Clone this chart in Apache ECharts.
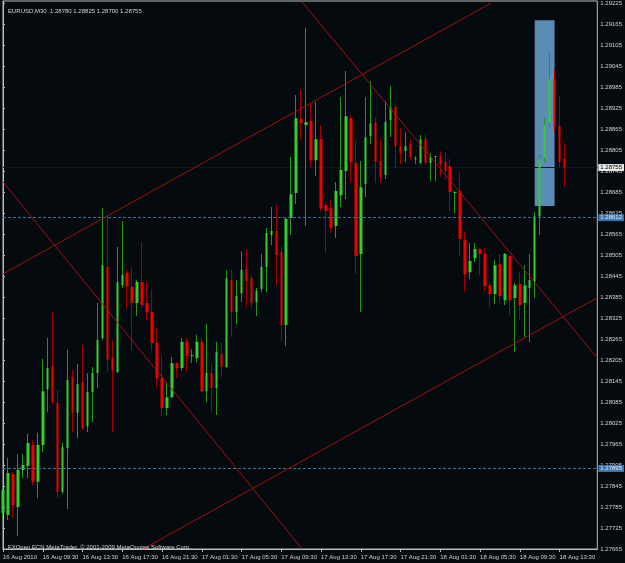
<!DOCTYPE html>
<html>
<head>
<meta charset="utf-8">
<title>EURUSD,M30</title>
<script src="https://cdn.jsdelivr.net/npm/echarts@6/dist/echarts.min.js"></script>
<style>
  html, body { margin: 0; padding: 0; background: #050a0f; }
  #main { width: 625px; height: 563px; }
</style>
</head>
<body>
<div id="main"></div>
<script>
const symbol = "EURUSD,M30";
const footerText = "FXOpen ECN MetaTrader, \u00a9 2001-2009 MetaQuotes Software Corp.";

// one label every 8 bars (4 hours of M30)
const timeLabels = [
  "16 Aug 2010", "16 Aug 09:30", "16 Aug 13:30", "16 Aug 17:30", "16 Aug 21:30",
  "17 Aug 01:30", "17 Aug 05:30", "17 Aug 09:30", "17 Aug 13:30", "17 Aug 17:30",
  "17 Aug 21:30", "18 Aug 01:30", "18 Aug 05:30", "18 Aug 09:30", "18 Aug 13:30"
];

const opens = [
  1.27768, 1.27762, 1.27879, 1.27785, 1.27891, 1.27902, 1.27962, 1.27857, 1.27962, 1.28122,
  1.28188, 1.28082, 1.27828, 1.27953, 1.28156, 1.28054, 1.28142, 1.28016, 1.28114, 1.28168,
  1.28268, 1.28471, 1.28211, 1.28171, 1.28419, 1.28454, 1.28414, 1.28368, 1.28428, 1.28368,
  1.28342, 1.28254, 1.28154, 1.28068, 1.28099, 1.28196, 1.28182, 1.28257, 1.28216, 1.28211,
  1.28257, 1.28116, 1.28168, 1.28125, 1.28222, 1.28185, 1.28434, 1.28342, 1.28396, 1.28465,
  1.28439, 1.28371, 1.28408, 1.28471, 1.28562, 1.28574, 1.28514, 1.28305, 1.28611, 1.28682,
  1.28894, 1.28876, 1.28888, 1.28776, 1.28836, 1.28648, 1.28639, 1.28588, 1.28676, 1.28745,
  1.28896, 1.28768, 1.28508, 1.28708, 1.28845, 1.28885, 1.28774, 1.28734, 1.28891, 1.28928,
  1.28816, 1.28802, 1.28822, 1.28779, 1.28768, 1.28836, 1.28768, 1.28785, 1.28788, 1.28771,
  1.28759, 1.28682, 1.28688, 1.28548, 1.28456, 1.28496, 1.28522, 1.28508, 1.28419, 1.28394,
  1.28479, 1.28376, 1.28502, 1.28382, 1.28422, 1.28368, 1.28411, 1.28428, 1.28616, 1.28782,
  1.28882, 1.29008, 1.28874, 1.28780
];
const closes = [
  1.27834, 1.27882, 1.27791, 1.27891, 1.27905, 1.27968, 1.27857, 1.27962, 1.28116, 1.28182,
  1.28085, 1.27828, 1.27956, 1.28148, 1.28056, 1.28136, 1.28008, 1.28114, 1.28168, 1.28262,
  1.28476, 1.28205, 1.28176, 1.28428, 1.28448, 1.28416, 1.28368, 1.28428, 1.28362, 1.28342,
  1.28254, 1.28154, 1.28068, 1.28099, 1.28196, 1.28182, 1.28257, 1.28216, 1.28219, 1.28257,
  1.28116, 1.28168, 1.28125, 1.28228, 1.28185, 1.28439, 1.28342, 1.28388, 1.28462, 1.28431,
  1.28368, 1.28402, 1.28471, 1.28568, 1.28574, 1.28505, 1.28305, 1.28608, 1.28679, 1.28896,
  1.28882, 1.28885, 1.28776, 1.28836, 1.28639, 1.28631, 1.28582, 1.28688, 1.28748, 1.28902,
  1.28771, 1.28502, 1.28699, 1.28842, 1.28882, 1.28771, 1.28728, 1.28885, 1.28928, 1.28816,
  1.28796, 1.28816, 1.28785, 1.28782, 1.28836, 1.28768, 1.28785, 1.28788, 1.28765, 1.28745,
  1.28685, 1.28685, 1.28551, 1.28451, 1.28488, 1.28522, 1.28508, 1.28416, 1.28394, 1.28476,
  1.28388, 1.28508, 1.28376, 1.28419, 1.28362, 1.28419, 1.28434, 1.28616, 1.28779, 1.28876,
  1.29008, 1.28871, 1.28771, 1.28755
];
const lows = [
  1.27748, 1.27748, 1.27754, 1.27702, 1.27868, 1.27868, 1.27848, 1.27811, 1.27942, 1.28056,
  1.28079, 1.27811, 1.27822, 1.27779, 1.27999, 1.27982, 1.28005, 1.27999, 1.28028, 1.28125,
  1.28262, 1.28171, 1.27999, 1.28168, 1.28411, 1.28351, 1.28234, 1.28331, 1.28356, 1.28319,
  1.28231, 1.28125, 1.28045, 1.28048, 1.28096, 1.28154, 1.28174, 1.28171, 1.28196, 1.28199,
  1.28111, 1.28085, 1.28056, 1.28048, 1.28156, 1.28182, 1.28271, 1.28308, 1.28371, 1.28356,
  1.28354, 1.28331, 1.28399, 1.28399, 1.28534, 1.28419, 1.28259, 1.28245, 1.28562, 1.28651,
  1.28831, 1.28588, 1.28756, 1.28731, 1.28631, 1.28511, 1.28568, 1.28554, 1.28642, 1.28665,
  1.28711, 1.28451, 1.28342, 1.28671, 1.28822, 1.28711, 1.28711, 1.28722, 1.28842, 1.28756,
  1.28765, 1.28771, 1.28776, 1.28765, 1.28765, 1.28765, 1.28716, 1.28716, 1.28728, 1.28719,
  1.28631, 1.28625, 1.28502, 1.28399, 1.28436, 1.28485, 1.28448, 1.28402, 1.28356, 1.28365,
  1.28365, 1.28362, 1.28331, 1.28228, 1.28319, 1.28271, 1.28257, 1.28382, 1.28562, 1.28771,
  1.28871, 1.28856, 1.28756, 1.28700
];
const highs = [
  1.27840, 1.27925, 1.27885, 1.27936, 1.27936, 1.27994, 1.27976, 1.27997, 1.28208, 1.28268,
  1.28342, 1.28119, 1.27968, 1.28234, 1.28176, 1.28194, 1.28248, 1.28168, 1.28185, 1.28368,
  1.28639, 1.28619, 1.28262, 1.28528, 1.28602, 1.28462, 1.28471, 1.28434, 1.28542, 1.28428,
  1.28408, 1.28299, 1.28219, 1.28139, 1.28214, 1.28199, 1.28268, 1.28268, 1.28236, 1.28277,
  1.28268, 1.28308, 1.28194, 1.28257, 1.28254, 1.28462, 1.28462, 1.28434, 1.28516, 1.28522,
  1.28448, 1.28411, 1.28508, 1.28582, 1.28642, 1.28648, 1.28528, 1.28614, 1.28785, 1.28962,
  1.28979, 1.29154, 1.28939, 1.28942, 1.28876, 1.28656, 1.28662, 1.28714, 1.28956, 1.29031,
  1.28905, 1.28836, 1.28774, 1.28956, 1.29002, 1.28899, 1.28836, 1.28945, 1.28988, 1.28936,
  1.28868, 1.28856, 1.28836, 1.28788, 1.28848, 1.28848, 1.28796, 1.28788, 1.28802, 1.28799,
  1.28779, 1.28688, 1.28742, 1.28571, 1.28539, 1.28539, 1.28525, 1.28525, 1.28428, 1.28491,
  1.28508, 1.28511, 1.28505, 1.28425, 1.28456, 1.28476, 1.28508, 1.28628, 1.28791, 1.28896,
  1.29085, 1.29036, 1.28959, 1.28825
];

// chart objects: bid, two horizontal levels, four trend lines, one rectangle
const bidPrice = 1.28755;
const levelPrices = [1.28612, 1.27895];
const trendLines = [
  [[0, 1.28451], [98.2, 1.29225]],
  [[28.2, 1.27665], [119.6, 1.28383]],
  [[0, 1.28714], [60.2, 1.27665]],
  [[60.2, 1.29228], [119.6, 1.28211]]
];
const boxCorners = [[107, 1.29176], [111, 1.28645]];

const priceMin = 1.27665;
const priceMax = 1.29231;
const priceStep = 0.0006;
const barsPerLabel = 8;
const xMax = 119.6;

const bg = "#050a0f";
const textColor = "#d2d2d2";
const frameColor = "#bdbdbd";
const font = "Liberation Sans";

const last = opens.length - 1;
const candles = opens.map((o, i) => [i, o, closes[i], lows[i], highs[i]]);
const fmt = (v) => v.toFixed(5);

const chart = echarts.init(document.getElementById("main"), null, { renderer: "canvas" });

const option = {
  animation: false,
  backgroundColor: bg,
  textStyle: { fontFamily: font },
  title: [
    {
      text: symbol + "  " + [opens[last], highs[last], lows[last], closes[last]].map(fmt).join(" "),
      left: 3,
      top: 3,
      textStyle: { color: textColor, fontSize: 6, fontWeight: "normal", fontFamily: font }
    },
    {
      text: footerText,
      left: 3,
      top: 539,
      textStyle: { color: textColor, fontSize: 6, fontWeight: "normal", fontFamily: font }
    }
  ],
  grid: {
    left: 2,
    right: 25,
    top: 1,
    bottom: 14,
    show: true,
    backgroundColor: bg,
    borderColor: frameColor,
    borderWidth: 1
  },
  xAxis: {
    type: "value",
    min: 0,
    max: xMax,
    interval: barsPerLabel,
    axisLine: { show: true, lineStyle: { color: frameColor } },
    axisTick: { show: true, length: 3, lineStyle: { color: frameColor } },
    splitLine: { show: false },
    axisLabel: {
      showMaxLabel: false,
      color: textColor,
      fontSize: 6,
      fontFamily: font,
      align: "left",
      margin: 5,
      formatter: (v) => {
        const k = Math.round(v / barsPerLabel);
        return Math.abs(v - k * barsPerLabel) < 1e-6 && timeLabels[k] ? timeLabels[k] : "";
      }
    }
  },
  yAxis: {
    type: "value",
    position: "right",
    min: priceMin,
    max: priceMax,
    interval: priceStep,
    scale: true,
    axisLine: { show: true, lineStyle: { color: frameColor } },
    axisTick: { show: true, length: 2, lineStyle: { color: frameColor } },
    splitLine: { show: false },
    axisLabel: {
      showMaxLabel: false,
      color: textColor,
      fontSize: 6,
      fontFamily: font,
      margin: 3,
      formatter: (v) => fmt(v)
    }
  },
  series: [
    {
      // rectangle object, drawn behind the candles
      type: "line",
      data: [],
      z: 1,
      silent: true,
      markArea: {
        silent: true,
        z: 0,
        itemStyle: { color: "#5b8cb4" },
        data: [[{ coord: boxCorners[0] }, { coord: boxCorners[1] }]]
      }
    },
    {
      // bid line (dark, only shows against the rectangle)
      type: "line",
      data: [],
      z: 2,
      silent: true,
      markLine: {
        silent: true,
        z: 1,
        precision: 5,
        symbol: "none",
        lineStyle: { color: "#0e161e", width: 1, type: "solid" },
        label: {
          position: "end",
          distance: 1,
          formatter: (p) => fmt(p.value),
          color: "#000000",
          backgroundColor: "#e8e8e8",
          padding: [1, 2, 0, 2],
          fontSize: 6,
          fontFamily: font
        },
        data: [{ yAxis: bidPrice }]
      }
    },
    {
      // wicks
      type: "candlestick",
      z: 3,
      silent: true,
      barWidth: 1,
      itemStyle: {
        color: "#1f9a1f",
        color0: "#a00000",
        borderColor: "#1f9a1f",
        borderColor0: "#a00000",
        borderWidth: 1
      },
      data: candles
    },
    {
      // bodies
      type: "candlestick",
      z: 4,
      silent: true,
      barWidth: 3,
      itemStyle: {
        color: "#33cc33",
        color0: "#ee0000",
        borderColor: "#33cc33",
        borderColor0: "#ee0000",
        borderWidth: 0
      },
      data: candles
    },
    {
      // horizontal levels and trend lines
      type: "line",
      data: [],
      z: 5,
      silent: true,
      markLine: {
        silent: true,
        z: 6,
        precision: 5,
        symbol: "none",
        data: levelPrices.map((p) => ({
          yAxis: p,
          lineStyle: { color: "#3f6f96", width: 1, type: [3, 2] },
          label: {
            show: true,
            position: "end",
            distance: 1,
            formatter: (q) => fmt(q.value),
            color: "#e8eef4",
            backgroundColor: "#3b74a8",
            padding: [1, 2, 0, 2],
            fontSize: 6,
            fontFamily: font
          }
        })).concat(trendLines.map((t) => [
          { coord: t[0], lineStyle: { color: "#a01010", width: 1, type: "solid" }, label: { show: false } },
          { coord: t[1] }
        ]))
      }
    }
  ]
};

chart.setOption(option);
</script>
</body>
</html>
